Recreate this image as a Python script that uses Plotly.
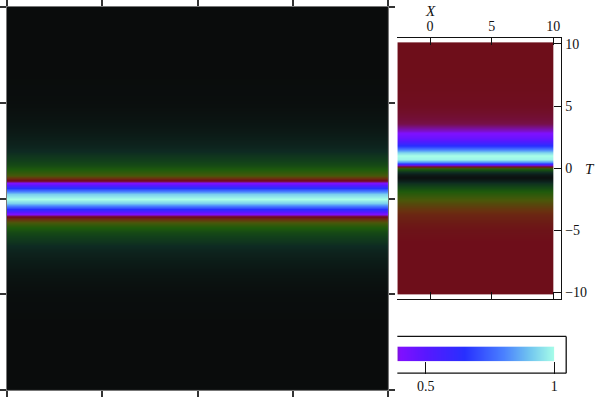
import plotly.graph_objects as go

# ---------------- data ----------------
# main panel: profile across the band (half profile, distance step 0.05 from centre)
main_half = [1.0, 0.92, 0.70, 0.45, 0.27, 0.18, 0.135, 0.10, 0.08, 0.065,
             0.05, 0.04, 0.033, 0.027, 0.022, 0.018, 0.014, 0.011, 0.008, 0.006,
             0.004, 0.003, 0.002, 0.002, 0.001, 0.001, 0.0, 0.0, 0.0, 0.0,
             0.0, 0.0, 0.0, 0.0, 0.0, 0.0, 0.0, 0.0, 0.0, 0.0, 0.0]
main_y = [round(-2 + 0.05 * i, 2) for i in range(81)]
main_x = [0, 4]
main_profile = main_half[::-1] + main_half[1:]

# right panel: profile along T (T from -10 to 10, step 0.25)
T_vals = [round(-10 + 0.25 * i, 2) for i in range(81)]
T_profile = ([0.30] * 17 +
             [0.298, 0.296, 0.294, 0.292, 0.288, 0.284, 0.278, 0.272, 0.264, 0.252,
              0.238, 0.222, 0.205, 0.188, 0.168, 0.148, 0.125, 0.098, 0.065, 0.03,
              0.008, 0.025, 0.07, 0.14, 0.38, 0.80, 0.98, 1.0, 0.93, 0.80,
              0.68, 0.58, 0.50, 0.45, 0.415, 0.39, 0.37, 0.355, 0.343, 0.333,
              0.325, 0.319, 0.314, 0.31] +
             [0.308, 0.306, 0.305, 0.304, 0.303, 0.302, 0.302, 0.301, 0.301] +
             [0.30] * 11)
X_edges = [-2.66, 3.67, 10]
X_ticks = [0, 5, 10]
T_ticks = [-10, -5, 0, 5, 10]

# colour bar
cbar_range = [0.39, 1.0]
cbar_ticks = [0.5, 1]
cbar_labels = ["0.5", "1"]

colorscale = [
    [0.00, '#0a0c0c'],
    [0.05, '#0e2a22'],
    [0.09, '#134418'],
    [0.13, '#1e5a0c'],
    [0.19, '#4a580a'],
    [0.25, '#6a3010'],
    [0.30, '#6e0e1a'],
    [0.35, '#761048'],
    [0.40, '#8010ff'],
    [0.50, '#5818ff'],
    [0.65, '#2830ff'],
    [0.80, '#4a80ff'],
    [0.90, '#70c4f0'],
    [1.00, '#a8ffe8'],
]

W, H = 600, 400
def px(x): return x / W
def py(y): return 1 - y / H

FONT = "Liberation Serif"

fig = go.Figure()

fig.add_trace(go.Heatmap(
    x=main_x, y=main_y, z=[[v, v] for v in main_profile],
    colorscale=colorscale, zmin=0, zmax=1, zsmooth='best', showscale=False,
    xaxis='x', yaxis='y', hoverinfo='skip'))

fig.add_trace(go.Heatmap(
    x=X_edges, y=T_vals, z=[[v, v] for v in T_profile],
    colorscale=colorscale, zmin=0, zmax=1, zsmooth='best', showscale=False,
    xaxis='x2', yaxis='y2', hoverinfo='skip'))

fig.add_trace(go.Heatmap(
    x=cbar_range, y=[0.5], z=[cbar_range],
    colorscale=colorscale, zmin=0, zmax=1, zsmooth='best', showscale=False,
    xaxis='x3', yaxis='y3', hoverinfo='skip'))

tick_font = dict(family=FONT, size=14, color='#111')

fig.update_layout(
    width=W, height=H, margin=dict(l=0, r=0, t=0, b=0),
    paper_bgcolor='white', plot_bgcolor='white', showlegend=False,
    font=dict(family=FONT, size=14, color='#111'),
    xaxis=dict(domain=[px(7), px(391)], range=[0, 4], tickvals=[0, 1, 2, 3, 4],
               ticks='outside', ticklen=6, tickwidth=1.5, tickcolor='#333',
               showticklabels=False, showline=True, linecolor='#777', linewidth=1,
               mirror='allticks', showgrid=False, zeroline=False, anchor='y'),
    yaxis=dict(domain=[py(392), py(6)], range=[-2, 2], tickvals=[-2, -1, 0, 1, 2],
               ticks='outside', ticklen=6, tickwidth=1.5, tickcolor='#333',
               showticklabels=False, showline=True, linecolor='#777', linewidth=1,
               mirror='allticks', showgrid=False, zeroline=False, anchor='x'),
    xaxis2=dict(domain=[px(400), px(565)], range=[-2.66, 10.65], tickvals=X_ticks,
                side='top', ticks='inside', ticklen=7, tickwidth=1.3, tickcolor='#111',
                showline=True, linecolor='#111', linewidth=1.3, mirror='allticks',
                showgrid=False, zeroline=False, anchor='y2', tickfont=tick_font),
    yaxis2=dict(domain=[py(300), py(37)], range=[-10.5, 10.5], tickvals=T_ticks,
                side='right', ticks='inside', ticklen=7, tickwidth=1.3, tickcolor='#111',
                showline=True, linecolor='#111', linewidth=1.3, mirror=False,
                showgrid=False, zeroline=False, anchor='x2', tickfont=tick_font),
    xaxis3=dict(domain=[px(400), px(558)], range=cbar_range, tickvals=cbar_ticks,
                ticktext=cbar_labels, ticks='outside', ticklen=12, tickwidth=1.3,
                tickcolor='#111', showline=False, showgrid=False, zeroline=False,
                anchor='y3', tickfont=tick_font),
    yaxis3=dict(domain=[py(363), py(348)], range=[0, 1], showticklabels=False,
                ticks='', showline=False, showgrid=False, zeroline=False, anchor='x3'),
    shapes=[
        dict(type='line', xref='paper', yref='paper', x0=px(400), x1=px(570),
             y0=py(338), y1=py(338), line=dict(color='#111', width=1.3)),
        dict(type='line', xref='paper', yref='paper', x0=px(570), x1=px(570),
             y0=py(338), y1=py(375), line=dict(color='#111', width=1.3)),
        dict(type='line', xref='paper', yref='paper', x0=px(400), x1=px(570),
             y0=py(375), y1=py(375), line=dict(color='#111', width=1.3)),
    ],
    annotations=[
        dict(text='<i>X</i>', xref='paper', yref='paper', x=px(433), y=py(10),
             xanchor='center', yanchor='middle', showarrow=False,
             font=dict(family=FONT, size=15, color='#111')),
        dict(text='<i>T</i>', xref='paper', yref='paper', x=px(594), y=py(169),
             xanchor='center', yanchor='middle', showarrow=False,
             font=dict(family=FONT, size=15, color='#111')),
    ],
)

fig.write_html("out.html", config={'displayModeBar': False},
               post_script="document.body.style.margin='0';document.body.style.overflow='hidden';")
